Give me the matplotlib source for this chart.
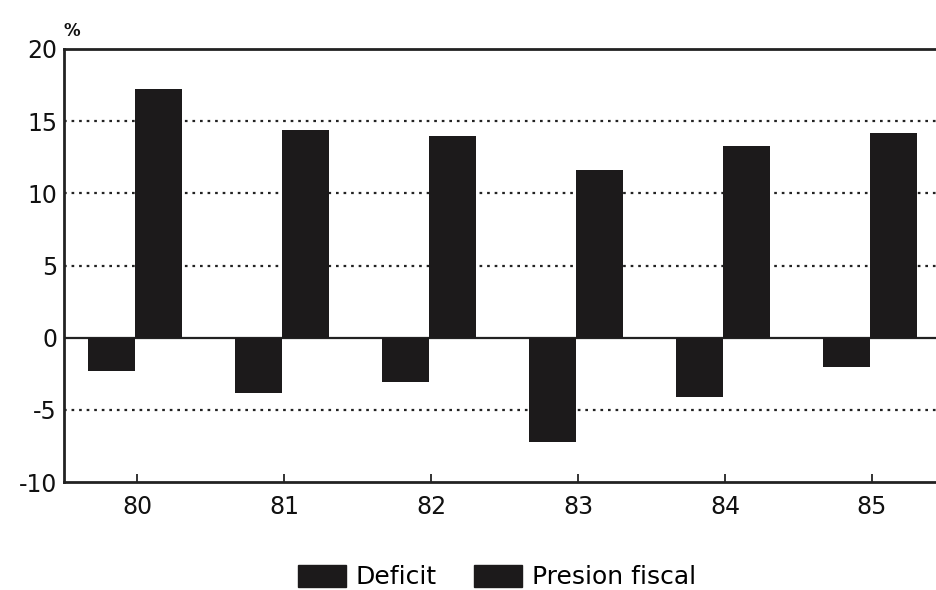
import numpy as np
import matplotlib
matplotlib.use("Agg")
import matplotlib.pyplot as plt
from matplotlib.patches import Patch

plt.rcParams["font.family"] = ["DejaVu Sans"]

years = ["80", "81", "82", "83", "84", "85"]
deficit = [-2.3, -3.8, -3.1, -7.2, -4.1, -2.0]
presion_fiscal = [17.2, 14.4, 14.0, 11.6, 13.3, 14.2]

BAR = "#1c1a1b"

fig = plt.figure(figsize=(9.36, 5.9), dpi=100)
ax = fig.add_axes([0.0684, 0.183, 0.9496, 0.734])

x = np.arange(len(years))
w = 0.32
ax.bar(x - 0.175, deficit, w, color=BAR, zorder=3)
ax.bar(x + 0.145, presion_fiscal, w, color=BAR, zorder=3)

# líneas de referencia punteadas y eje cero
for yv in (-5, 5, 10, 15):
    ax.axhline(yv, color="#222", lw=1.6, ls=(0, (1.2, 2.2)), zorder=1)
ax.axhline(0, color="#222", lw=1.6, zorder=2)

ax.set_xlim(-0.5, 5.55)
ax.set_ylim(-10, 20)
ax.set_yticks([-10, -5, 0, 5, 10, 15, 20])
ax.set_yticklabels(["-10", "-5", "0", "5", "10", "15", "20"])
ax.set_xticks(x)
ax.set_xticklabels(years)
ax.tick_params(axis="y", length=0, pad=5, labelsize=17, colors="#111")
ax.tick_params(axis="x", direction="in", length=6, width=1.2, pad=9,
               labelsize=17, colors="#111")
for s in ax.spines.values():
    s.set_linewidth(2)
    s.set_color("#222")

fig.text(0.077, 0.948, "%", fontsize=12, fontweight="bold", ha="center",
         va="center", color="#111")

handles = [Patch(facecolor=BAR, edgecolor=BAR), Patch(facecolor=BAR, edgecolor=BAR)]
fig.legend(handles, ["Deficit", "Presion fiscal"], loc="center",
           bbox_to_anchor=(0.531, 0.022), ncol=2, frameon=False, fontsize=18,
           handlelength=1.9, handleheight=1.0, handletextpad=0.4,
           columnspacing=1.5)

fig.savefig("out.png", dpi=100)
